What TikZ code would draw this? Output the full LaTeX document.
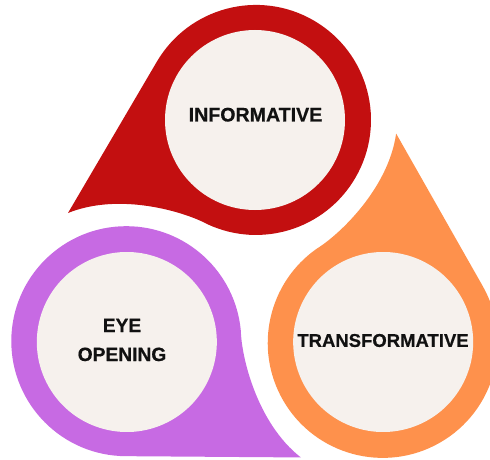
\documentclass[tikz,border=0pt]{standalone}
\usepackage{fontspec}
\usepackage[HTML]{xcolor}
\usepackage{tikz}
\usetikzlibrary{positioning}

\newfontfamily\labelfont[BoldFeatures={FakeBold=0.6}]{Liberation Sans}

\definecolor{dropred}{HTML}{C30F10}
\definecolor{droporange}{HTML}{FE914C}
\definecolor{droppurple}{HTML}{C76AE3}
\definecolor{corefill}{HTML}{F6F1ED}
\definecolor{labeltext}{HTML}{111111}

\begin{document}
\begin{tikzpicture}[x=1pt, y=-1pt,
    drop/.style={fill=#1, draw=none},
    core/.style={fill=corefill, draw=none},
    label/.style={font=\labelfont\bfseries\fontsize{#1}{29}\selectfont, text=labeltext, inner sep=0pt, align=center},
    label/.default=18.8]

    \useasboundingbox (0,0) rectangle (490,460);

    % 1. Draw the three drops (one shape, turned round the middle point)
    \coordinate (mid) at (255,268);
    \foreach \rot/\col in {0/dropred, -120/droporange, -240/droppurple} {
        \begin{scope}[rotate around={\rot:(mid)}]
            % tip, straight side, ring, curved side back to the tip
            \fill[drop=\col] (68,213) -- (156.6,62.1)
                arc[start angle=210.2, end angle=475, radius=115]
                .. controls (185,212) and (120,192) .. (68,213) -- cycle;
            % inner disc
            \fill[core] (255,120) circle[radius=90];
        \end{scope}
    }

    % 2. Labels
    \node[label=19.6] (inform) at (255.5,114.7) {INFORMATIVE};
    \node[label=18.5] (transform) at (383,340.5) {TRANSFORMATIVE};
    \node[label=19.2] (eyeopen) at (122,340) {EYE\\OPENING};

\end{tikzpicture}
\end{document}
